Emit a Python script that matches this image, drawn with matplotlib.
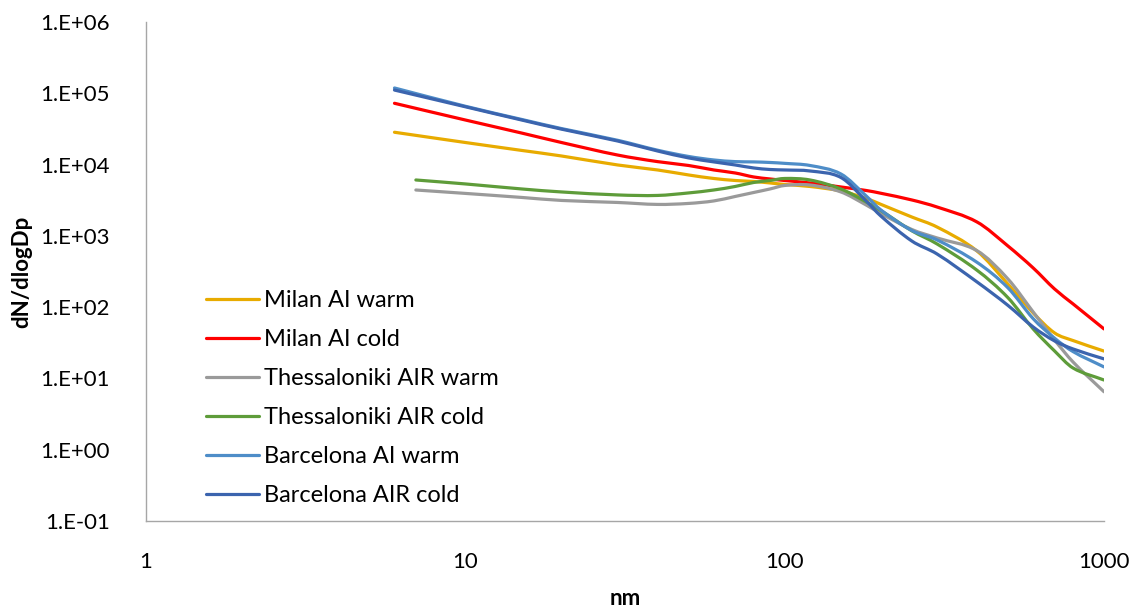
import matplotlib
matplotlib.use("Agg")
import matplotlib.pyplot as plt
from matplotlib.path import Path
from matplotlib.patches import PathPatch
from matplotlib.lines import Line2D
import numpy as np

plt.rcParams['font.family'] = ['Lato', 'DejaVu Sans']

# diameters (nm)
d_six = [6, 10, 15, 20, 30, 40, 50, 60, 70, 80, 90, 100, 120, 150, 180, 200, 250, 300, 400, 500, 600, 700, 800, 1000]
d_seven = [7, 10, 15, 20, 30, 40, 50, 60, 70, 80, 90, 100, 120, 150, 180, 200, 250, 300, 400, 500, 600, 700, 800, 1000]

milan_warm = [28400, 20400, 15800, 13200, 9870, 8400, 7150, 6380, 5980, 5790, 5520, 5260, 4930, 4260,
              3350, 2770, 1840, 1330, 614, 211, 83, 43.5, 34, 24.2]
milan_cold = [72400, 42200, 27700, 20400, 13600, 11000, 9710, 8400, 7620, 6700, 6280, 5980, 5520, 4850,
              4330, 3960, 3190, 2540, 1567, 722, 355, 180, 111, 49.5]
thess_warm = [4400, 3940, 3460, 3140, 2940, 2760, 2850, 3090, 3570, 4060, 4550, 5090, 5170, 4130,
              2710, 2060, 1230, 935, 620, 249, 85.7, 34.7, 17, 6.5]
thess_cold = [6080, 5350, 4550, 4130, 3750, 3690, 4000, 4400, 4930, 5610, 5980, 6380, 6080, 4550,
              2990, 2270, 1180, 770, 330, 136, 49.5, 24.3, 14, 9.5]
barc_warm = [118700, 65800, 43000, 32000, 21900, 15900, 13000, 11600, 11000, 10900, 10700, 10400, 9710, 7380,
             3630, 2310, 1190, 877, 426, 187, 69, 36.7, 23.8, 14.5]
barc_cold = [111000, 64700, 42200, 31400, 21400, 15500, 12400, 10900, 9870, 8960, 8530, 8400, 8130, 6590,
             3090, 1900, 848, 557, 226, 106, 52.7, 33.6, 25.9, 18.8]

labels = ["Milan AI warm", "Milan AI cold", "Thessaloniki AIR warm", "Thessaloniki AIR cold",
          "Barcelona AI warm", "Barcelona AIR cold"]
colors = ['#E8AB00', '#FF0000', '#9A9A9A', '#5E9C3A', '#4E8DC8', '#3B64AE']

y_ticks = [1e-1, 1, 1e1, 1e2, 1e3, 1e4, 1e5, 1e6]
y_tick_labels = ["1.E-01", "1.E+00", "1.E+01", "1.E+02", "1.E+03", "1.E+04", "1.E+05", "1.E+06"]
x_ticks = [1, 10, 100, 1000]
x_tick_labels = ["1", "10", "100", "1000"]


def smooth_path(xs, ys):
    # smoothed line like Excel: cubic bezier through the points, worked out in log space
    lx = np.log10(xs)
    ly = np.log10(ys)
    n = len(lx)
    m = np.zeros(n)
    m[0] = (ly[1] - ly[0]) / (lx[1] - lx[0])
    m[-1] = (ly[-1] - ly[-2]) / (lx[-1] - lx[-2])
    for i in range(1, n - 1):
        m[i] = (ly[i + 1] - ly[i - 1]) / (lx[i + 1] - lx[i - 1])
    verts = [(lx[0], ly[0])]
    codes = [Path.MOVETO]
    for i in range(n - 1):
        h = (lx[i + 1] - lx[i]) / 3.0
        verts += [(lx[i] + h, ly[i] + h * m[i]),
                  (lx[i + 1] - h, ly[i + 1] - h * m[i + 1]),
                  (lx[i + 1], ly[i + 1])]
        codes += [Path.CURVE4] * 3
    verts = 10 ** np.array(verts)
    return Path(verts, codes)


fig = plt.figure(figsize=(11.38, 6.07), dpi=100)
ax = fig.add_axes([146 / 1138, 1 - 521 / 607, (1104 - 146) / 1138, (521 - 22) / 607])

ax.set_xscale('log')
ax.set_yscale('log')
ax.set_xlim(1, 1000)
ax.set_ylim(0.1, 1e6)

series = [(d_six, milan_warm), (d_six, milan_cold), (d_seven, thess_warm),
          (d_seven, thess_cold), (d_six, barc_warm), (d_six, barc_cold)]
handles = []
for (xs, ys), lab, c in zip(series, labels, colors):
    patch = PathPatch(smooth_path(xs, ys), fill=False, edgecolor=c, lw=2.3,
                      joinstyle='round', capstyle='round')
    ax.add_patch(patch)
    handles.append(Line2D([], [], color=c, lw=2.3, solid_capstyle='round'))

ax.set_xticks(x_ticks)
ax.set_xticklabels(x_tick_labels)
ax.set_yticks(y_ticks)
ax.set_yticklabels(y_tick_labels)
ax.minorticks_off()
ax.tick_params(axis='both', length=0, labelsize=16, colors='#000000')
ax.tick_params(axis='y', pad=26)
ax.tick_params(axis='x', pad=22)

for s in ['top', 'right']:
    ax.spines[s].set_visible(False)
for s in ['left', 'bottom']:
    ax.spines[s].set_color('#A6A6A6')
    ax.spines[s].set_linewidth(1.0)

ax.set_ylabel("dN/dlogDp", fontsize=16, fontweight='bold', labelpad=6)
ax.set_xlabel("nm", fontsize=16, fontweight='bold', labelpad=12)

ax.legend(handles, labels, loc='upper left', bbox_to_anchor=(0.0626, 0.462), frameon=False,
          fontsize=17, handlelength=2.25, handletextpad=0.2, labelspacing=0.76,
          borderaxespad=0, borderpad=0)

fig.savefig("out.png", dpi=100)
